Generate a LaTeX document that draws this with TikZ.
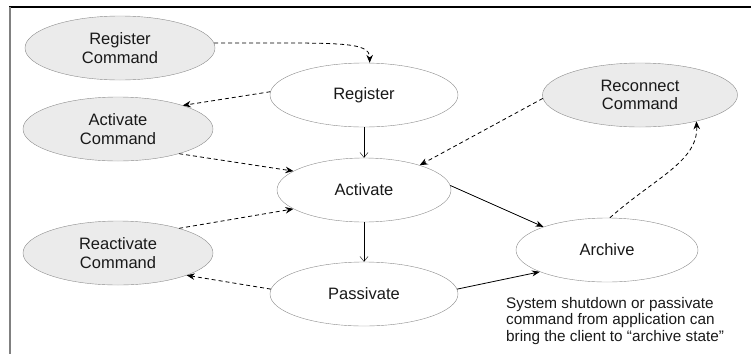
\documentclass[tikz,border=0pt]{standalone}
\usepackage{fontspec}
\setmainfont{Liberation Sans}
\usepackage{xcolor}
\usetikzlibrary{arrows.meta, shapes.geometric, positioning}

\definecolor{cmdfill}{HTML}{EBEBEB}
\definecolor{rim}{HTML}{8C8C8C}

\begin{document}
\begin{tikzpicture}[x=1pt, y=-1pt,
    cmd/.style={ellipse, draw=rim, fill=cmdfill, minimum width=190pt, minimum height=64pt,
      inner sep=0pt, align=center, text=black!90, font=\fontsize{16.5}{18.5}\selectfont},
    state/.style={cmd, fill=white},
    flow/.style={-{Stealth[length=8pt, width=6pt]}, black, thick},
    down/.style={-{Straight Barb[length=5pt, width=8pt]}, black},
    call/.style={-{Stealth[length=8pt, width=6.5pt]}, black, thick, dash pattern=on 4pt off 3pt}]

      \useasboundingbox (0,0) rectangle (751,354);
      % frame
      \draw[black, line width=1.5pt] (9,7) -- (751,7);
      \draw[gray, line width=2pt] (10,7) -- (10,354);

      % command nodes
      \node[cmd] (regcmd)   at (120,48)  {Register\\Command};
      \node[cmd] (actcmd)   at (118,129) {Activate\\Command};
      \node[cmd] (reactcmd) at (118,253) {Reactivate\\Command};
      \node[cmd, minimum width=195pt] (reconcmd) at (640,95) {Reconnect\\Command};
      % states
      \node[state, minimum width=188pt] (reg)  at (364,95)  {Register};
      \node[state, minimum width=174pt] (act)  at (364,190) {Activate};
      \node[state, minimum width=188pt] (pass) at (364,294) {Passivate};
      \node[state, minimum width=182pt] (arch) at (607,250) {Archive};
      \node[anchor=north west, align=left, inner sep=0pt, text=black!90,
            font=\fontsize{15.3}{16.6}\selectfont] (note) at (506,297)
            {System shutdown or passivate\\command from application can\\bring the client to ``archive state''};

      % state changes
      \draw[down] (reg.south) -- (act.north);
      \draw[down] (act.south) -- (pass.north);
      \draw[flow] (act.3) -- (arch.160);
      \draw[flow] (pass.3) -- (arch.198);

      % commands
      \draw[call] (regcmd.3) .. controls +(125,0) and +(0,-22) .. (reg.80);
      \draw[call] (reg.178) -- (actcmd.20);
      \draw[call] (actcmd.-22) -- (act.165);
      \draw[call] (reconcmd.182) -- (act.24);
      \draw[call] (reactcmd.22) -- (act.195);
      \draw[call] (pass.177) -- (reactcmd.-18);
      \draw[call] (arch.85) .. controls +(45,-40) and +(2,40) .. (reconcmd.-25);
    \end{tikzpicture}
\end{document}
